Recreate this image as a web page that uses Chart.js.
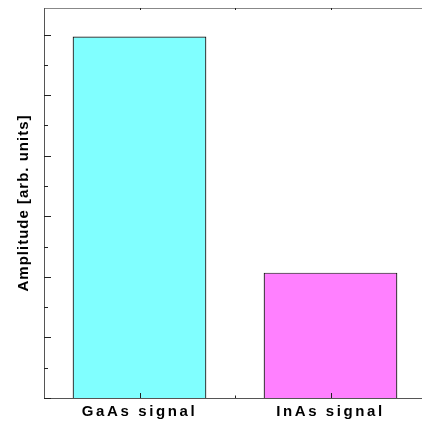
<!DOCTYPE html>
<html>
<head>
<meta charset="utf-8">
<script src="https://cdn.jsdelivr.net/npm/chart.js@4.4.0/dist/chart.umd.min.js"></script>
<style>
  html, body { margin: 0; padding: 0; background: #fff; overflow: hidden; }
  #wrap { width: 422px; height: 423px; overflow: hidden; }
  canvas { display: block; }
</style>
</head>
<body>
<div id="wrap"><canvas id="grafico" width="426" height="423"></canvas></div>
<script>
// dados
const categorias = ['GaAs signal', 'InAs signal'];
const amplitudes = [5.97, 2.07];
const coresBarras = ['#80ffff', '#ff80ff'];
const yMax = 6.44;

const ctx = document.getElementById('grafico').getContext('2d');

// eixo esquerdo e marcas internas (ticks para dentro)
const marcasInternas = {
    id: 'marcasInternas',
    beforeDraw(chart) {
        chart.ctx.letterSpacing = '1.0px';
    },
    beforeDatasetsDraw(chart) {
        chart.ctx.letterSpacing = '2.6px';
    },
    afterDraw(chart) {
        const c = chart.ctx;
        c.letterSpacing = '0px';
        const area = chart.chartArea;
        const y = chart.scales.y;
        const x = chart.scales.x;
        const meioY = Math.round((area.top + area.bottom) / 2);
        c.save();
        c.lineWidth = 1;
        c.strokeStyle = '#555';
        c.beginPath();
        c.moveTo(area.left + 0.5, area.top);
        c.lineTo(area.left + 0.5, meioY);
        c.stroke();
        c.beginPath();
        c.moveTo(area.left + 0.5, meioY);
        c.lineTo(area.left + 0.5, area.bottom + 0.5);
        c.stroke();
        c.strokeStyle = '#222';
        c.beginPath();
        y.ticks.forEach(t => {
            const meio = t.value * 2;
            if (Math.abs(meio - Math.round(meio)) > 1e-6) return;
            const py = Math.round(y.getPixelForValue(t.value)) + 0.5;
            const len = Math.round(meio) % 2 === 0 ? 7 : 4;
            c.moveTo(area.left, py);
            c.lineTo(area.left + len, py);
        });
        [0, 0.5, 1].forEach(v => {
            const px = Math.round(x.getPixelForValue(v)) + 0.5;
            const major = v !== 0.5;
            c.moveTo(px, area.bottom);
            c.lineTo(px, area.bottom - (major ? 5 : 2.5));
            c.moveTo(px, area.top);
            c.lineTo(px, area.top + 2);
        });
        c.stroke();
        c.restore();
    }
};

const grafico = new Chart(ctx, {
    type: 'bar',
    data: {
        labels: categorias,
        datasets: [{
            data: amplitudes,
            backgroundColor: coresBarras,
            borderColor: '#111',
            borderWidth: 1.2,
            categoryPercentage: 0.7,
            barPercentage: 1.0
        }]
    },
    options: {
        responsive: false,
        animation: false,
        devicePixelRatio: 1,
        layout: { padding: 0 },
        plugins: {
            legend: { display: false },
            tooltip: { enabled: false }
        },
        scales: {
            x: {
                position: 'bottom',
                grid: { display: false, drawTicks: false },
                border: { display: true, color: '#555', width: 1 },
                ticks: {
                    z: 1,
                    padding: 5,
                    color: '#000',
                    font: { family: 'Liberation Sans, Arial', size: 15, weight: 'bold' }
                },
                afterFit(scale) { scale.height = 25; }
            },
            x2: {
                position: 'top',
                type: 'category',
                labels: categorias,
                grid: { display: false, drawTicks: false },
                border: { display: true, color: '#888', width: 1 },
                ticks: { display: false },
                afterFit(scale) { scale.height = 8; }
            },
            y: {
                min: 0,
                max: yMax,
                grid: { display: false, drawTicks: false },
                border: { display: false },
                ticks: { display: false, stepSize: 0.5 },
                title: {
                    display: true,
                    text: 'Amplitude [arb. units]',
                    color: '#000',
                    padding: { top: 15, bottom: 0 },
                    font: { family: 'Liberation Sans, Arial', size: 15, weight: 'bold' }
                },
                afterFit(scale) { scale.width = 44; }
            }
        }
    },
    plugins: [marcasInternas]
});
</script>
</body>
</html>
